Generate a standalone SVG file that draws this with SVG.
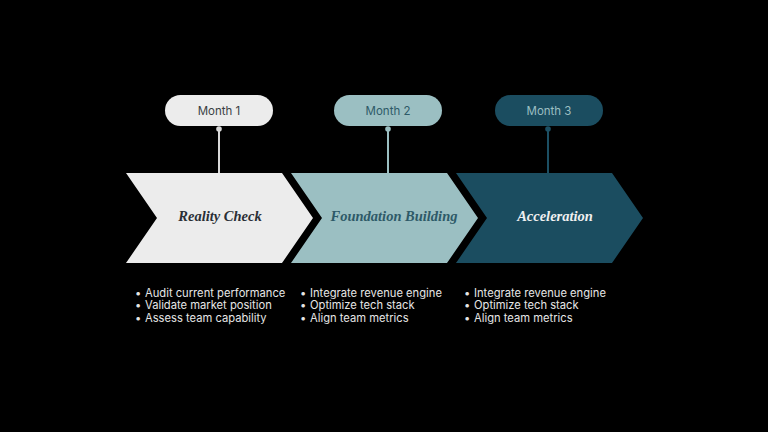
<svg xmlns="http://www.w3.org/2000/svg" width="768" height="432" viewBox="0 0 768 432">
<style>
.pill{font-family:Inter,"Liberation Sans",sans-serif;font-size:11.5px;text-anchor:middle}
.title{font-family:"Liberation Serif",serif;font-style:italic;font-weight:bold;font-size:14.5px;text-anchor:middle}
.bl{font-family:Inter,"Liberation Sans",sans-serif;font-size:11.2px;fill:#e6e6e6}
</style>
<rect width="768" height="432" fill="#000"/>
<g id="connectors">
<line x1="219" y1="129" x2="219" y2="174" stroke="#d9d9d9" stroke-width="2"/>
<circle cx="219" cy="129" r="2.8" fill="#d9d9d9"/>
<line x1="388" y1="129" x2="388" y2="174" stroke="#9bbfc2" stroke-width="2"/>
<circle cx="388" cy="129" r="2.8" fill="#9bbfc2"/>
<line x1="548" y1="129" x2="548" y2="174" stroke="#1c4f63" stroke-width="2"/>
<circle cx="548" cy="129" r="2.8" fill="#1c4f63"/>
</g>
<g id="step1">
<polygon points="126,173 282,173 313,218 282,263 126,263 157,218" fill="#ececec"/>
<text class="title" x="220" y="221" fill="#2a2f36">Reality Check</text>
</g>
<g id="step2">
<polygon points="291,173 447,173 478,218 447,263 291,263 322,218" fill="#9bbfc2"/>
<text class="title" x="394" y="221" fill="#2e5a68">Foundation Building</text>
</g>
<g id="step3">
<polygon points="456,173 612,173 643,218 612,263 456,263 487,218" fill="#1b4d60"/>
<text class="title" x="555" y="221" fill="#f0f0f0">Acceleration</text>
</g>
<g id="month1">
<rect x="165" y="95" width="108" height="31" rx="15.5" fill="#ececec"/>
<text class="pill" x="219" y="114.5" fill="#3a3f44">Month 1</text>
</g>
<g id="month2">
<rect x="334" y="95" width="108" height="31" rx="15.5" fill="#9bbfc2"/>
<text class="pill" x="388" y="114.5" fill="#2e5a68">Month 2</text>
</g>
<g id="month3">
<rect x="495" y="95" width="108" height="31" rx="15.5" fill="#1b4d60"/>
<text class="pill" x="549" y="114.5" fill="#9bbfc2">Month 3</text>
</g>
<g id="bullets1" class="bl">
<text x="135" y="297">•</text><text x="145" y="297">Audit current performance</text>
<text x="135" y="309.3">•</text><text x="145" y="309.3">Validate market position</text>
<text x="135" y="321.6">•</text><text x="145" y="321.6">Assess team capability</text>
</g>
<g id="bullets2" class="bl">
<text x="300" y="297">•</text><text x="310" y="297">Integrate revenue engine</text>
<text x="300" y="309.3">•</text><text x="310" y="309.3">Optimize tech stack</text>
<text x="300" y="321.6">•</text><text x="310" y="321.6">Align team metrics</text>
</g>
<g id="bullets3" class="bl">
<text x="464" y="297">•</text><text x="474" y="297">Integrate revenue engine</text>
<text x="464" y="309.3">•</text><text x="474" y="309.3">Optimize tech stack</text>
<text x="464" y="321.6">•</text><text x="474" y="321.6">Align team metrics</text>
</g>
</svg>
